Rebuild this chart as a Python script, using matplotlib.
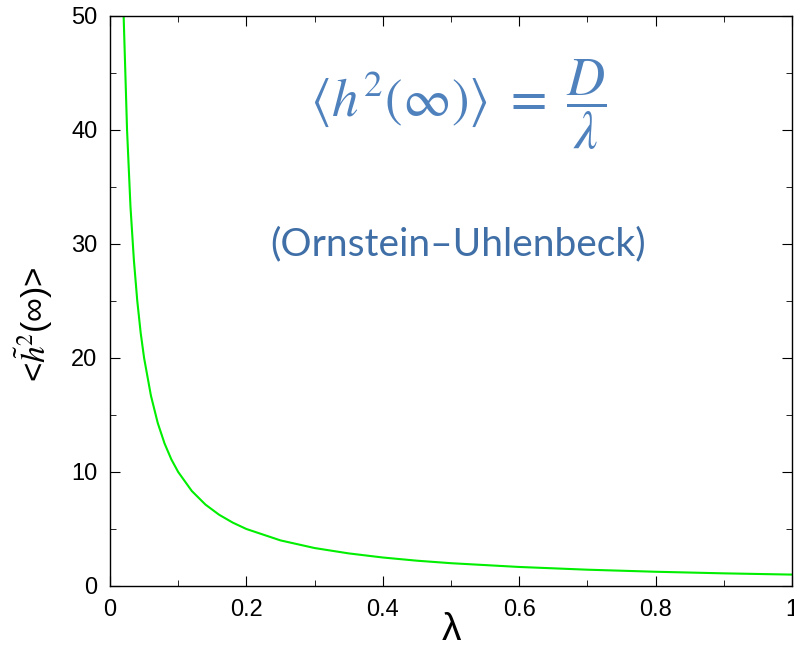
import numpy as np
import matplotlib.pyplot as plt

plt.rcParams['font.family'] = ['Liberation Sans', 'DejaVu Sans']
plt.rcParams['mathtext.fontset'] = 'stix'

# stationary width <h^2(inf)> against damping lambda (D = 1)
lam = [0.02, 0.025, 0.03, 0.035, 0.04, 0.045, 0.05, 0.06, 0.07, 0.08, 0.09,
       0.10, 0.12, 0.14, 0.16, 0.18, 0.20, 0.25, 0.30, 0.35, 0.40, 0.45,
       0.50, 0.60, 0.70, 0.80, 0.90, 1.00]
h2 = [50.0, 40.0, 33.3, 28.6, 25.0, 22.2, 20.0, 16.7, 14.3, 12.5, 11.1,
      10.0, 8.33, 7.14, 6.25, 5.56, 5.00, 4.00, 3.33, 2.86, 2.50, 2.22,
      2.00, 1.67, 1.43, 1.25, 1.11, 1.00]

fig = plt.figure(figsize=(7.94, 6.49), dpi=100)
ax = fig.add_axes([110 / 794, 1 - 586 / 649, 682 / 794, 570 / 649])

ax.plot(lam, h2, color='#00ee00', lw=1.5)

ax.set_xlim(0, 1)
ax.set_ylim(0, 50)
ax.set_xticks([0, 0.2, 0.4, 0.6, 0.8, 1.0])
ax.set_xticklabels(['0', '0.2', '0.4', '0.6', '0.8', '1'])
ax.set_xticks(np.arange(0.1, 1.0, 0.2), minor=True)
ax.set_yticks([0, 10, 20, 30, 40, 50])
ax.set_yticks(np.arange(5, 50, 10), minor=True)
ax.tick_params(which='both', direction='in', top=True, right=True,
               labelsize=17, pad=9)
ax.tick_params(which='major', length=7)
ax.tick_params(which='minor', length=4)
for s in ax.spines.values():
    s.set_linewidth(1.0)

ax.set_xlabel('\u03bb', fontsize=28)
ax.xaxis.set_label_coords(0.5, -0.046)
ax.set_ylabel(r'<$\tilde{h}^2$(∞)>', fontsize=24)
ax.yaxis.set_label_coords(-0.081, 0.46)

blue = '#4f81bd'
ax.text(0.51, 0.845,
        r'$\langle h^2(\infty)\rangle\ =\ \dfrac{D}{\lambda}$',
        transform=ax.transAxes, ha='center', va='center',
        fontsize=38, color=blue)
ax.text(0.51, 0.60, '(Ornstein\u2013Uhlenbeck)', transform=ax.transAxes,
        ha='center', va='center', fontsize=28, color='#3f6fa6',
        family=['Lato', 'DejaVu Sans'])

fig.savefig('out.png', dpi=100)
